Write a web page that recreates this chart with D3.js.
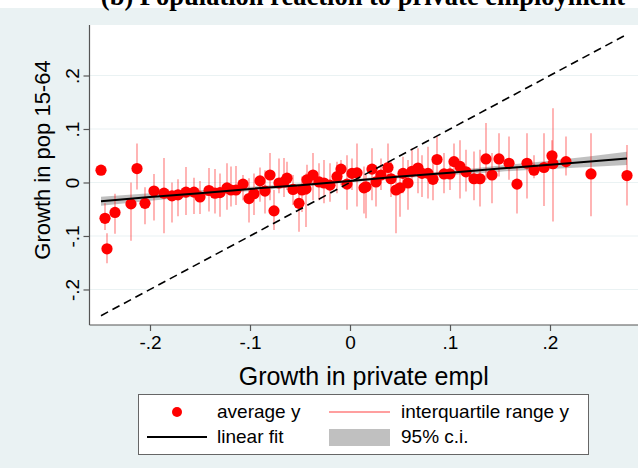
<!DOCTYPE html>
<html>
<head>
<meta charset="utf-8">
<title>Population reaction to private employment</title>
<script src="https://d3js.org/d3.v7.min.js"></script>
<style>
body{margin:0;background:#fff;}
svg{display:block;}
text{font-family:"Liberation Sans", Arial, sans-serif;fill:#000;}
</style>
</head>
<body>
<svg width="638" height="468"></svg>
<script>
// bins of growth in private employment, mean and IQR of pop growth in each bin
var binX  = [-0.249,-0.245,-0.243,-0.235,-0.219,-0.213,-0.205,-0.196,-0.186,-0.178,-0.172,-0.164,-0.156,-0.150,
             -0.141,-0.135,-0.130,-0.123,-0.119,-0.114,-0.107,-0.101,-0.096,-0.090,-0.085,-0.080,-0.076,-0.071,
             -0.066,-0.063,-0.057,-0.051,-0.048,-0.044,-0.043,-0.037,-0.031,-0.026,-0.020,-0.013,-0.009,-0.003,
              0.002, 0.007, 0.014, 0.016, 0.022, 0.026, 0.031, 0.038, 0.041, 0.046, 0.050, 0.053, 0.058, 0.062,
              0.068, 0.072, 0.078, 0.083, 0.087, 0.094, 0.100, 0.104, 0.110, 0.116, 0.124, 0.130, 0.136, 0.142,
              0.149, 0.159, 0.167, 0.177, 0.184, 0.194, 0.202, 0.203, 0.216, 0.241, 0.277];
var avgY  = [ 0.023,-0.067,-0.124,-0.056,-0.040, 0.026,-0.039,-0.016,-0.020,-0.025,-0.023,-0.018,-0.018,-0.027,
             -0.015,-0.020,-0.019,-0.010,-0.014,-0.014,-0.003,-0.030,-0.021, 0.003,-0.016, 0.014,-0.053,-0.001,
              0.001, 0.008,-0.013,-0.039,-0.014,-0.012, 0.005, 0.014, 0.001,-0.001,-0.005, 0.011, 0.025,-0.003,
              0.017, 0.018,-0.010,-0.008, 0.025, 0.001, 0.014, 0.028, 0.007,-0.014,-0.010, 0.017,-0.001, 0.021,
              0.027, 0.017, 0.017, 0.006, 0.043, 0.016, 0.016, 0.039, 0.030, 0.020, 0.007, 0.007, 0.044, 0.014,
              0.044, 0.036,-0.003, 0.036, 0.023, 0.028, 0.050, 0.035, 0.039, 0.016, 0.013];
var iqrLo = [ 0.020,-0.089,-0.151,-0.096,-0.109,-0.013,-0.078,-0.071,-0.095,-0.075,-0.063,-0.061,-0.059,-0.059,
             -0.054,-0.058,-0.064,-0.051,-0.045,-0.042,-0.033,-0.075,-0.061,-0.036,-0.058,-0.033,-0.089,-0.020,
             -0.027,-0.014,-0.042,-0.092,-0.055,-0.083,-0.023,-0.033,-0.033,-0.039,-0.036,-0.020,-0.005,-0.051,
             -0.014,-0.045,-0.058,-0.067,-0.033,-0.045,-0.014,-0.001,-0.027,-0.095,-0.064,-0.020,-0.051,-0.008,
             -0.020,-0.027,-0.030,-0.033, 0.001,-0.020,-0.014, 0.023,-0.030,-0.017,-0.033,-0.045, 0.005,-0.039,
              0.011, 0.005,-0.058,-0.030, 0.008,-0.044, 0.030,-0.073, 0.013,-0.063,-0.043];
var iqrHi = [ 0.027,-0.039,-0.095,-0.021, 0.000, 0.073,-0.009, 0.016, 0.046, 0.000, 0.006, 0.029, 0.009, 0.003,
              0.027, 0.025, 0.017, 0.036, 0.030, 0.031, 0.014, 0.008, 0.017, 0.028, 0.023, 0.055,-0.014, 0.045,
              0.046, 0.039, 0.014,-0.008, 0.011, 0.017, 0.033, 0.055, 0.036, 0.042, 0.036, 0.039, 0.042, 0.051,
              0.045, 0.073, 0.030, 0.014, 0.064, 0.023, 0.045, 0.073, 0.042, 0.014, 0.017, 0.048, 0.042, 0.064,
              0.064, 0.051, 0.067, 0.039, 0.086, 0.055, 0.042, 0.073, 0.079, 0.061, 0.058, 0.061, 0.111, 0.055,
              0.092, 0.086, 0.030, 0.092, 0.051, 0.092, 0.079, 0.139, 0.086, 0.092, 0.070];

// linear fit and its 95% band
var fitX   = [-0.249,-0.2,-0.15,-0.1,-0.05,0,0.05,0.1,0.15,0.2,0.277];
var fitY   = [-0.035,-0.027,-0.020,-0.012,-0.005,0.003,0.011,0.018,0.026,0.033,0.045];
var ciHalf = [0.0085,0.007,0.0055,0.004,0.003,0.0027,0.003,0.004,0.0058,0.0078,0.0125];

var xTicks = [-0.2,-0.1,0,0.1,0.2];
var xTickLabels = ["-.2","-.1","0",".1",".2"];
var yTicks = [-0.2,-0.1,0,0.1,0.2];
var yTickLabels = ["-.2","-.1","0",".1",".2"];

var svg = d3.select('svg');
var W = 638, H = 468;
var pLeft = 89.5, pRight = 638, pTop = 25, pBottom = 325;

// page: white strip for title, bluish outer region
svg.append('rect').attr('width', W).attr('height', H).attr('fill', '#fff');
svg.append('rect').attr('y', 8).attr('width', W).attr('height', H - 8).attr('fill', '#eaf2f3');
svg.append('rect').attr('x', pLeft).attr('y', pTop).attr('width', pRight - pLeft).attr('height', pBottom - pTop).attr('fill', '#fff');

svg.append('text')
  .attr('x', 363).attr('y', 5)
  .attr('text-anchor', 'middle')
  .style('font-family', '"Liberation Serif", "Times New Roman", serif')
  .style('font-weight', 'bold')
  .style('font-size', '26.5px')
  .text('(b) Population reaction to private employment');

var x = d3.scaleLinear().domain([-0.2605, 0.288]).range([pLeft, pRight]);
var y = d3.scaleLinear().domain([-0.2664, 0.2944]).range([pBottom, pTop]);

// gridlines
svg.append('g').selectAll('line').data(yTicks).enter().append('line')
  .attr('x1', pLeft).attr('x2', pRight)
  .attr('y1', d => y(d)).attr('y2', d => y(d))
  .attr('stroke', '#eaf2f3').attr('stroke-width', 1.2);

var pts = binX.map((v, i) => ({x: v, m: avgY[i], lo: iqrLo[i], hi: iqrHi[i]}));
var fit = fitX.map((v, i) => ({x: v, y: fitY[i], h: ciHalf[i]}));

// 95% c.i.
svg.append('path').datum(fit)
  .attr('d', d3.area().curve(d3.curveMonotoneX).x(d => x(d.x)).y0(d => y(d.y - d.h)).y1(d => y(d.y + d.h)))
  .attr('fill', '#b0b0b0').attr('opacity', 0.8);

// interquartile range spikes
svg.append('g').selectAll('line').data(pts).enter().append('line')
  .attr('x1', d => x(d.x)).attr('x2', d => x(d.x))
  .attr('y1', d => y(d.lo)).attr('y2', d => y(d.hi))
  .attr('stroke', '#ff0000').attr('stroke-opacity', 0.45).attr('stroke-width', 1.3);

// averages
svg.append('g').selectAll('circle').data(pts).enter().append('circle')
  .attr('cx', d => x(d.x)).attr('cy', d => y(d.m)).attr('r', 5.6)
  .attr('fill', '#ff0000');

// linear fit
svg.append('path').datum(fit)
  .attr('d', d3.line().x(d => x(d.x)).y(d => y(d.y)))
  .attr('fill', 'none').attr('stroke', '#000').attr('stroke-width', 2);

// 45 degree line
var xr = d3.extent(binX);
svg.append('line')
  .attr('x1', x(xr[0])).attr('y1', y(xr[0]))
  .attr('x2', x(xr[1])).attr('y2', y(xr[1]))
  .attr('stroke', '#000').attr('stroke-width', 1.6).attr('stroke-dasharray', '8,5');

// axes
var xAxis = svg.append('g').attr('transform', `translate(0,${pBottom})`)
  .call(d3.axisBottom(x).tickValues(xTicks).tickFormat((d, i) => xTickLabels[i]).tickSize(6).tickPadding(5));
var yAxis = svg.append('g').attr('transform', `translate(${pLeft},0)`)
  .call(d3.axisLeft(y).tickValues(yTicks).tickFormat((d, i) => yTickLabels[i]).tickSize(6).tickPadding(4));
[xAxis, yAxis].forEach(a => {
  a.select('.domain').attr('stroke', '#555').attr('stroke-width', 1.2);
  a.selectAll('.tick line').attr('stroke', '#555').attr('stroke-width', 1.2);
  a.selectAll('text').style('font-size', '19px').attr('fill', '#000');
});
xAxis.select('.domain').attr('d', `M${pLeft},0H${pRight}`);
yAxis.select('.domain').attr('d', `M0,${pTop}V${pBottom}`);
// stata-style vertical y tick labels
yAxis.selectAll('.tick text')
  .attr('x', null).attr('dy', null)
  .attr('text-anchor', 'middle')
  .attr('transform', 'translate(-11,0) rotate(-90)');

svg.append('text')
  .attr('x', (pLeft + pRight) / 2).attr('y', 385)
  .attr('text-anchor', 'middle').style('font-size', '25px')
  .text('Growth in private empl');
svg.append('text')
  .attr('transform', 'translate(50,160) rotate(-90)')
  .attr('text-anchor', 'middle').style('font-size', '22px')
  .text('Growth in pop 15-64');

// legend
var lg = svg.append('g');
lg.append('rect').attr('x', 138.5).attr('y', 394.5).attr('width', 450).attr('height', 60)
  .attr('fill', '#fff').attr('stroke', '#666').attr('stroke-width', 1);
lg.append('circle').attr('cx', 177).attr('cy', 412).attr('r', 5).attr('fill', '#ff0000');
lg.append('line').attr('x1', 329).attr('x2', 390).attr('y1', 412).attr('y2', 412)
  .attr('stroke', '#ff0000').attr('stroke-opacity', 0.5).attr('stroke-width', 1.3);
lg.append('line').attr('x1', 147).attr('x2', 207).attr('y1', 437).attr('y2', 437)
  .attr('stroke', '#000').attr('stroke-width', 2);
lg.append('rect').attr('x', 329).attr('y', 429).attr('width', 61).attr('height', 17)
  .attr('fill', '#c0c0c0');
var legendText = [['average y', 217, 418], ['interquartile range y', 401, 418], ['linear fit', 217, 443], ['95% c.i.', 401, 443]];
lg.selectAll('text').data(legendText).enter().append('text')
  .attr('x', d => d[1]).attr('y', d => d[2]).style('font-size', '19px').text(d => d[0]);
</script>
</body>
</html>
